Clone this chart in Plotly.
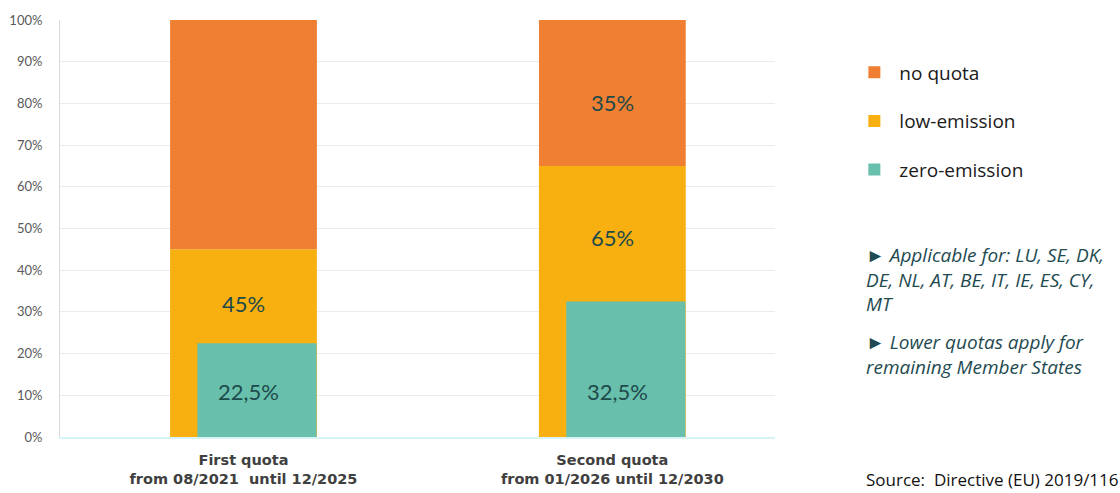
import plotly.graph_objects as go

categories = ["First quota<br>from 08/2021  until 12/2025",
              "Second quota<br>from 01/2026 until 12/2030"]
low_emission = [45, 65]
zero_emission = [22.5, 32.5]
no_quota = [55, 35]
low_labels = ["45%", "65%"]
zero_labels = ["22,5%", "32,5%"]
no_quota_labels = ["", "35%"]
y_ticks = [0, 10, 20, 30, 40, 50, 60, 70, 80, 90, 100]
y_tick_labels = [f"{v}%" for v in y_ticks]

C_ORANGE = "#EF7F32"
C_YELLOW = "#F8B010"
C_TEAL = "#68BFAC"
C_LABEL = "#1D4A4A"

BAR_W = 0.398
TEAL_OFF = -0.125
TEAL_W = 0.323

fig = go.Figure()
fig.add_trace(go.Bar(x=categories, y=low_emission, name="low-emission",
                     marker=dict(color=C_YELLOW, line=dict(width=0)),
                     width=[BAR_W] * 2, offset=[-BAR_W / 2] * 2,
                     legendrank=2, legendgroup="b", hoverinfo="skip"))
fig.add_trace(go.Bar(x=categories, y=zero_emission, name="zero-emission",
                     marker=dict(color=C_TEAL, line=dict(width=0)),
                     width=[TEAL_W] * 2, offset=[TEAL_OFF] * 2,
                     legendrank=3, legendgroup="c", hoverinfo="skip"))
fig.add_trace(go.Bar(x=categories, y=no_quota, base=low_emission, name="no quota",
                     marker=dict(color=C_ORANGE, line=dict(width=0)),
                     width=[BAR_W] * 2, offset=[-BAR_W / 2] * 2,
                     legendrank=1, legendgroup="a", hoverinfo="skip"))

label_font = dict(family="Lato, sans-serif", size=22, color=C_LABEL)
for i, cat in enumerate(categories):
    fig.add_annotation(x=cat, y=(zero_emission[i] + low_emission[i]) / 2, text=low_labels[i],
                       showarrow=False, font=label_font, yshift=-7 + 3 * i, xshift=0)
    fig.add_annotation(x=cat, y=0, text=zero_labels[i], showarrow=False,
                       font=label_font, yanchor="middle", yshift=46, xshift=5)
    if no_quota_labels[i]:
        fig.add_annotation(x=cat, y=low_emission[i] + no_quota[i] / 2, text=no_quota_labels[i],
                           showarrow=False, font=label_font, yshift=-10)

side_font = dict(family="Open Sans, sans-serif", size=19, color="#1E4A50")
fig.add_annotation(xref="paper", yref="paper", x=1.1245, y=0.472, xanchor="left", yanchor="top",
                   align="left", showarrow=False, font=side_font,
                   text="<i>► Applicable for: LU, SE, DK,<br>DE, NL, AT, BE, IT, IE, ES, CY,<br>MT</i>")
fig.add_annotation(xref="paper", yref="paper", x=1.1245, y=0.264, xanchor="left", yanchor="top",
                   align="left", showarrow=False, font=side_font,
                   text="<i>► Lower quotas apply for<br>remaining Member States</i>")
fig.add_annotation(xref="paper", yref="paper", x=1.1245, y=-0.07, xanchor="left", yanchor="top",
                   align="left", showarrow=False,
                   font=dict(family="Open Sans, sans-serif", size=17, color="#111111"),
                   text="Source:  Directive (EU) 2019/116")

fig.update_layout(
    width=1120, height=493,
    margin=dict(l=60, r=345, t=20, b=56),
    paper_bgcolor="white", plot_bgcolor="white",
    barmode="overlay",
    showlegend=True,
    legend=dict(x=1.104, y=0.92, xanchor="left", yanchor="top",
                font=dict(family="Open Sans, sans-serif", size=19, color="#1a1a1a"),
                traceorder="grouped", tracegroupgap=21, itemwidth=40,
                bgcolor="rgba(0,0,0,0)"),
    xaxis=dict(range=[-0.4975, 1.441], showgrid=False, showline=True,
               linecolor="#D5F3F8", linewidth=1.5, ticks="", automargin=False,
               ticklabelstandoff=9,
               tickfont=dict(family="DejaVu Sans, sans-serif", size=14.5, color="#404040", weight="bold")),
    yaxis=dict(range=[0, 100], tickvals=y_ticks, ticktext=y_tick_labels,
               showgrid=True, gridcolor="#EBEBEB", gridwidth=1,
               showline=True, linecolor="#D9D9D9", linewidth=1, zeroline=False,
               ticks="", ticklabelstandoff=14, automargin=False,
               tickfont=dict(family="Lato, sans-serif", size=13, color="#595959")),
)

fig.write_html("out.html")
